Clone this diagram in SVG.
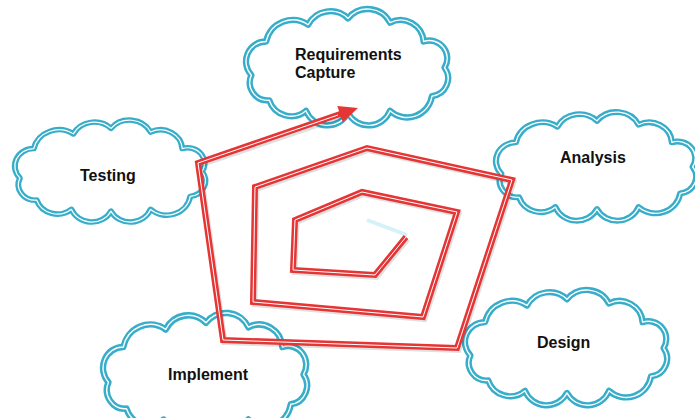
<svg xmlns="http://www.w3.org/2000/svg" width="695" height="418" viewBox="0 0 695 418">
<style>
.cl{fill:#fff;stroke:#37adc9;stroke-width:6;vector-effect:non-scaling-stroke;stroke-linejoin:round}
.ci{fill:none;stroke:#fff;stroke-width:1.3;vector-effect:non-scaling-stroke;stroke-linejoin:round}
.t{font-family:"Liberation Sans",Arial,sans-serif;font-weight:bold;font-size:16px;fill:#111}
.sp{fill:none;stroke:#e53535;stroke-width:6;stroke-linejoin:miter}
.spw{fill:none;stroke:#fff;stroke-width:1;stroke-linejoin:miter}
.sh{fill:none;stroke:#000;stroke-opacity:0.12;stroke-width:6}
</style>
<defs>
<path id="cloud" d="M8,62 A19,19 0 0 1 22,30 A26,26 0 0 1 62,14 A24,24 0 0 1 100,8 A24,24 0 0 1 140,12 A22,22 0 0 1 172,30 A17,17 0 0 1 192,55 A17,17 0 0 1 180,82 A24,24 0 0 1 140,96 A22,22 0 0 1 100,98 A22,22 0 0 1 60,96 A22,22 0 0 1 25,86 A17,17 0 0 1 8,62 Z"/>
</defs>
<rect width="695" height="418" fill="#fff"/>
<g id="node-requirements">
<use href="#cloud" class="cl" transform="translate(243,10) scale(1.05,1.05)"/>
<use href="#cloud" class="ci" transform="translate(243,10) scale(1.05,1.05)"/>
<text class="t" x="295" y="60">Requirements</text>
<text class="t" x="295" y="78">Capture</text>
</g>
<g id="node-testing">
<use href="#cloud" class="cl" transform="translate(12,121) scale(0.99,0.92)"/>
<use href="#cloud" class="ci" transform="translate(12,121) scale(0.99,0.92)"/>
<text class="t" x="80" y="181">Testing</text>
</g>
<g id="node-analysis">
<use href="#cloud" class="cl" transform="translate(493,113) scale(1.04,0.98)"/>
<use href="#cloud" class="ci" transform="translate(493,113) scale(1.04,0.98)"/>
<text class="t" x="560" y="163">Analysis</text>
</g>
<g id="node-implement">
<use href="#cloud" class="cl" transform="translate(100,314) scale(1.06,1.1)"/>
<use href="#cloud" class="ci" transform="translate(100,314) scale(1.06,1.1)"/>
<text class="t" x="168" y="380">Implement</text>
</g>
<g id="node-design">
<use href="#cloud" class="cl" transform="translate(462,291) scale(1.05,1.04)"/>
<use href="#cloud" class="ci" transform="translate(462,291) scale(1.05,1.04)"/>
<text class="t" x="537" y="348">Design</text>
</g>
<g id="connectors">
<path d="M367,220 L407,235" stroke="#d6f1f7" stroke-width="4" fill="none"/>
<path class="sh" transform="translate(1.5,2)" d="M406,237 L375,275 L293,270 L295,220 L362,192 L457,212 L423,317 L253,302 L255,187 L367,148 L512,180 L457,348 L223,340 L198,163 L342,114"/>
<path class="sp" d="M406,237 L375,275 L293,270 L295,220 L362,192 L457,212 L423,317 L253,302 L255,187 L367,148 L512,180 L457,348 L223,340 L198,163 L343,113"/>
<path class="spw" d="M406,237 L375,275 L293,270 L295,220 L362,192 L457,212 L423,317 L253,302 L255,187 L367,148 L512,180 L457,348 L223,340 L198,163 L338,115"/>
<polygon points="358,108 342.8,122.2 337.3,106" fill="#e53535"/>
</g>
</svg>
